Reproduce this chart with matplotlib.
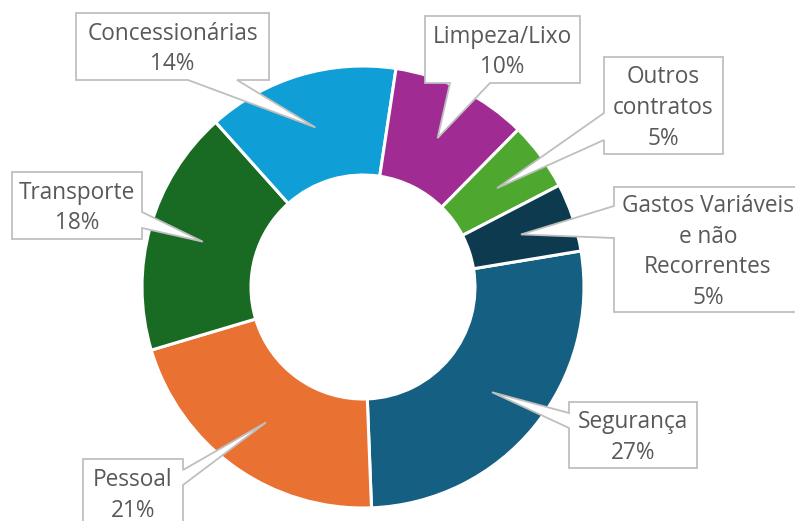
"""Donut of spending shares with Excel-style wedge callouts."""

import matplotlib

matplotlib.use("Agg")
import matplotlib.pyplot as plt
import numpy as np
from matplotlib.patches import Polygon

W, H = 795, 521
TEXT = "#595959"
BOX_EDGE = "#BFBFBF"

plt.rcParams.update({"font.family": "sans-serif",
                     "font.sans-serif": ["Open Sans", "DejaVu Sans"]})

# data, in drawing order (clockwise, starting at Segurança)
categories = ["Segurança", "Pessoal", "Transporte", "Concessionárias",
              "Limpeza/Lixo", "Outros\ncontratos",
              "Gastos Variáveis\ne não\nRecorrentes"]
shares = [27, 21, 18, 14, 10, 5, 5]
colors = ["#156082", "#E97132", "#196B24", "#0F9ED5",
          "#A02B93", "#4EA72E", "#0D3A4F"]

# callout layout, image pixels: box (x0, y0, x1, y1), side of pointer, pointer base span
callouts = [
    ((569, 402, 697, 468), "left", (413, 428)),
    ((83, 459, 183, 527), "right", (470, 485)),
    ((12, 172, 142, 239), "right", (212, 228)),
    ((76, 13, 269, 80), "bottom", (188, 237)),
    ((425, 16, 580, 83), "bottom", (450, 490)),
    ((604, 57, 723, 154), "left", (113, 140)),
    ((614, 187, 802, 312), "left", (206, 238)),
]

CX, CY = 363, H - 287
R_OUT, R_IN = 221, 112
TEXT_DROP = 2.5   # Open Sans sits a bit high vs the original font


def callout_poly(box, side, base, tip):
    """Rectangle outline with a wedge pointer spliced into one edge (image coords)."""
    x0, y0, x1, y1 = box
    b0, b1 = base
    pts = [(x0, y0)]
    if side == "top":
        pts += [(b0, y0), tip, (b1, y0)]
    pts.append((x1, y0))
    if side == "right":
        pts += [(x1, b0), tip, (x1, b1)]
    pts.append((x1, y1))
    if side == "bottom":
        pts += [(b1, y1), tip, (b0, y1)]
    pts.append((x0, y1))
    if side == "left":
        pts += [(x0, b1), tip, (x0, b0)]
    return [(x, H - y) for x, y in pts]


fig = plt.figure(figsize=(W / 100, H / 100), dpi=100, facecolor="white")
ax = fig.add_axes([0, 0, 1, 1])

wedges, _ = ax.pie(shares, colors=colors, center=(CX, CY), radius=R_OUT,
                   startangle=9.4, counterclock=False,
                   wedgeprops=dict(width=R_OUT - R_IN, edgecolor="white",
                                   linewidth=2.2))

r_mid = (R_OUT + R_IN) / 2
for w, label, pct, (box, side, base) in zip(wedges, categories, shares, callouts):
    a = np.deg2rad((w.theta1 + w.theta2) / 2)
    tip = (CX + r_mid * np.cos(a), H - (CY + r_mid * np.sin(a)))
    ax.add_patch(Polygon(callout_poly(box, side, base, tip), closed=True,
                         facecolor="white", edgecolor=BOX_EDGE, lw=1.3,
                         joinstyle="miter", zorder=3))
    x0, y0, x1, y1 = box
    ax.text((x0 + x1) / 2, H - (y0 + y1) / 2 - TEXT_DROP, f"{label}\n{pct}%",
            ha="center", va="center", ma="center", fontsize=16.3,
            color=TEXT, linespacing=1.38, zorder=4)

ax.set_xlim(0, W)
ax.set_ylim(0, H)
ax.set_aspect("equal")
ax.axis("off")

fig.savefig("out.png", dpi=100, facecolor="white")
